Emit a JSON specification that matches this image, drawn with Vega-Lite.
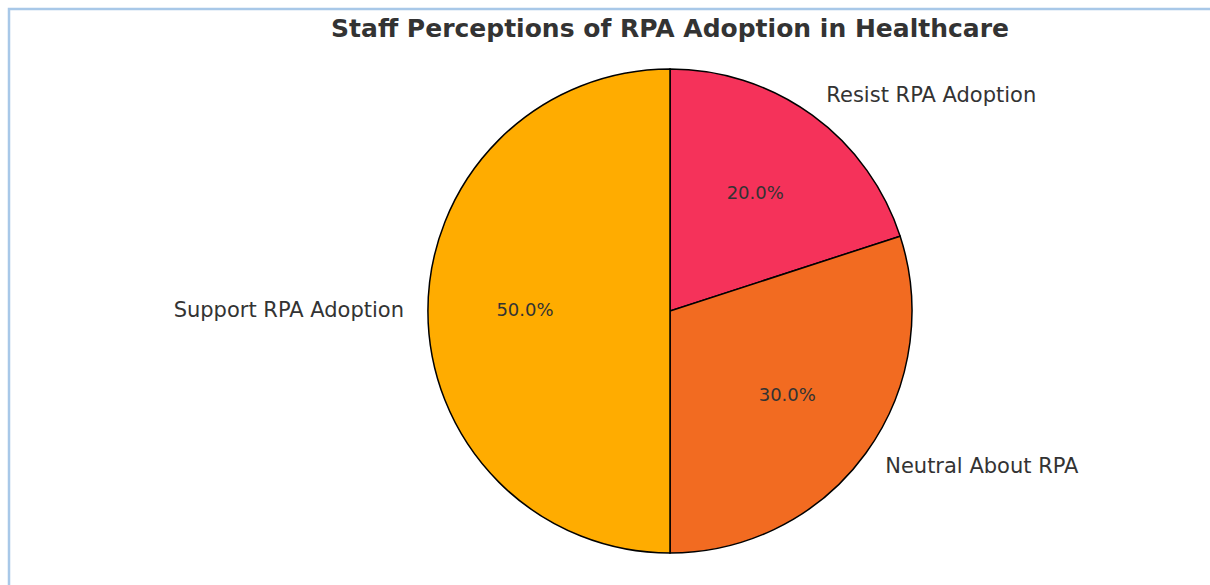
{
  "$schema": "https://vega.github.io/schema/vega-lite/v6.json",
  "width": 1322,
  "height": 604,
  "autosize": "none",
  "padding": {"left": 9, "top": 9, "right": -121, "bottom": -28},
  "background": "white",
  "view": {"stroke": "#a8c8e8", "strokeWidth": 2.5},
  "title": {
    "text": "Staff Perceptions of RPA Adoption in Healthcare",
    "font": "DejaVu Sans",
    "fontSize": 25,
    "fontWeight": "bold",
    "color": "#333333",
    "anchor": "middle",
    "baseline": "middle",
    "offset": -45
  },
  "config": {"view": {"stroke": "#a8c8e8", "strokeWidth": 2.5}},
  "data": {
    "values": [
      {"label": "Resist RPA Adoption", "share": 0.2},
      {"label": "Neutral About RPA", "share": 0.3},
      {"label": "Support RPA Adoption", "share": 0.5}
    ]
  },
  "encoding": {
    "theta": {"field": "share", "type": "quantitative", "stack": true},
    "order": {"field": "share", "type": "quantitative", "sort": "ascending"},
    "detail": {"field": "label", "type": "nominal"}
  },
  "layer": [
    {
      "mark": {"type": "arc", "outerRadius": 242, "stroke": "#000000", "strokeWidth": 1.5},
      "encoding": {
        "color": {
          "field": "label",
          "type": "nominal",
          "scale": {
            "domain": ["Resist RPA Adoption", "Neutral About RPA", "Support RPA Adoption"],
            "range": ["#F5325A", "#F26B21", "#FFAC00"]
          },
          "legend": null
        }
      }
    },
    {
      "mark": {"type": "text", "radius": 145, "font": "DejaVu Sans", "fontSize": 18, "color": "#333333", "align": "center", "baseline": "middle"},
      "encoding": {"text": {"field": "share", "type": "quantitative", "format": ".1%"}}
    },
    {
      "mark": {"type": "text", "radius": 266, "font": "DejaVu Sans", "fontSize": 21, "color": "#333333", "align": "left", "baseline": "middle"},
      "encoding": {
        "text": {
          "condition": {"test": "datum.label !== 'Support RPA Adoption'", "field": "label", "type": "nominal"},
          "value": ""
        }
      }
    },
    {
      "mark": {"type": "text", "radius": 266, "font": "DejaVu Sans", "fontSize": 21, "color": "#333333", "align": "right", "baseline": "middle"},
      "encoding": {
        "text": {
          "condition": {"test": "datum.label === 'Support RPA Adoption'", "field": "label", "type": "nominal"},
          "value": ""
        }
      }
    }
  ]
}
